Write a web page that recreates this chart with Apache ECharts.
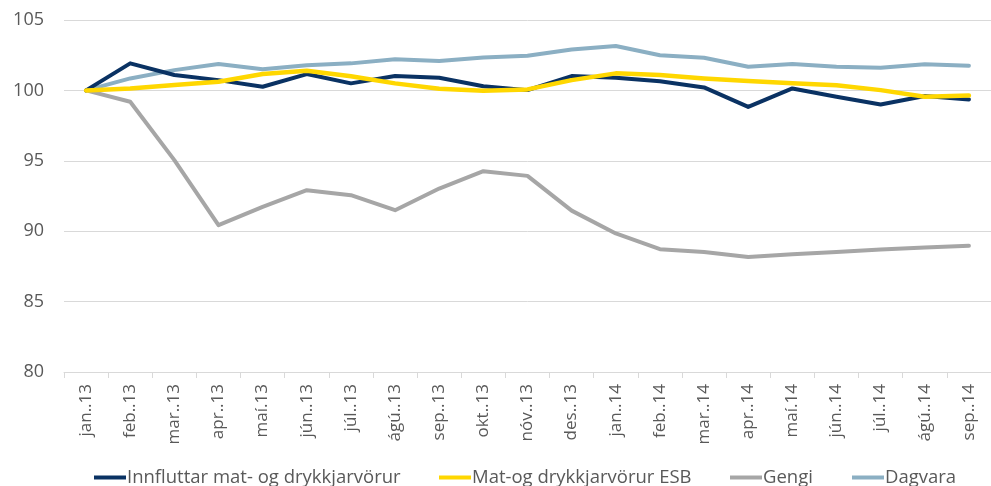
<!DOCTYPE html>
<html><head><meta charset="utf-8">
<script src="https://cdn.jsdelivr.net/npm/echarts@6/dist/echarts.min.js"></script>
<style>html,body{margin:0;padding:0;background:#fff}#c{width:991px;height:486px}</style>
</head><body><div id="c"></div>
<script>
var categories = ['jan..13','feb..13','mar..13','apr..13','maí.13','jún..13','júl..13','ágú..13','sep..13','okt..13','nóv..13','des..13','jan..14','feb..14','mar..14','apr..14','maí.14','jún..14','júl..14','ágú..14','sep..14'];
var innfluttar = [100,101.92,101.09,100.73,100.26,101.16,100.5,101.02,100.9,100.3,100.02,101.02,100.9,100.65,100.21,98.83,100.14,99.55,99.0,99.6,99.36];
var esb = [100,100.14,100.38,100.61,101.16,101.39,101.0,100.5,100.11,99.97,100.07,100.73,101.21,101.1,100.85,100.66,100.5,100.36,100.02,99.55,99.63];
var gengi = [100,99.19,95.05,90.43,91.73,92.91,92.56,91.49,93.03,94.26,93.93,91.46,89.84,88.72,88.53,88.17,88.36,88.53,88.7,88.84,88.96];
var dagvara = [100,100.85,101.44,101.87,101.51,101.78,101.92,102.22,102.08,102.34,102.46,102.91,103.15,102.5,102.32,101.68,101.87,101.68,101.61,101.85,101.75];
var yTicks = [80,85,90,95,100,105];
var names = ['Innfluttar mat- og drykkjarvörur','Mat-og drykkjarvörur ESB','Gengi','Dagvara'];
var colors = ['#0A3263','#FFD700','#A6A6A6','#8BAFC3'];
var widths = [4,4.5,4,4];
var values = [innfluttar, esb, gengi, dagvara];
var legendLeft = [89, 434, 725, 847];

var chart = echarts.init(document.getElementById('c'), null, {renderer:'canvas'});
var font = '"Open Sans", "Liberation Sans", sans-serif';
var series = names.map(function(n,i){
  return {name:n,type:'line',data:values[i],symbol:'none',smooth:false,
    lineStyle:{color:colors[i],width:widths[i],cap:'round',join:'round'},
    itemStyle:{color:colors[i]},z: i===1?5:(i===0?4:3)};
});
var legends = names.map(function(n,i){
  return {data:[n],left:legendLeft[i],top:463,icon:'rect',itemWidth:32,itemHeight:4,itemGap:0,
    textStyle:{fontFamily:font,fontSize:18.5,color:'#595959',padding:[0,0,0,-4]}};
});
chart.setOption({
  animation:false,
  backgroundColor:'#fff',
  legend:legends,
  grid:{left:64,right:-6,top:20,bottom:114},
  xAxis:{type:'category',data:categories,boundaryGap:true,
    axisLine:{lineStyle:{color:'#D9D9D9',width:1}},
    axisTick:{show:true,length:6,lineStyle:{color:'#D9D9D9'}},
    axisLabel:{rotate:90,margin:12,fontFamily:font,fontSize:17,color:'#595959',interval:0}},
  yAxis:{type:'value',min:80,max:105,interval:5,
    axisLine:{show:false},axisTick:{show:false},
    splitLine:{lineStyle:{color:'#D9D9D9',width:1}},
    axisLabel:{fontFamily:font,fontSize:18,color:'#595959',margin:20,
      formatter:function(v){return yTicks.indexOf(v)>=0?String(v):'';}}},
  series:series
});
</script></body></html>
